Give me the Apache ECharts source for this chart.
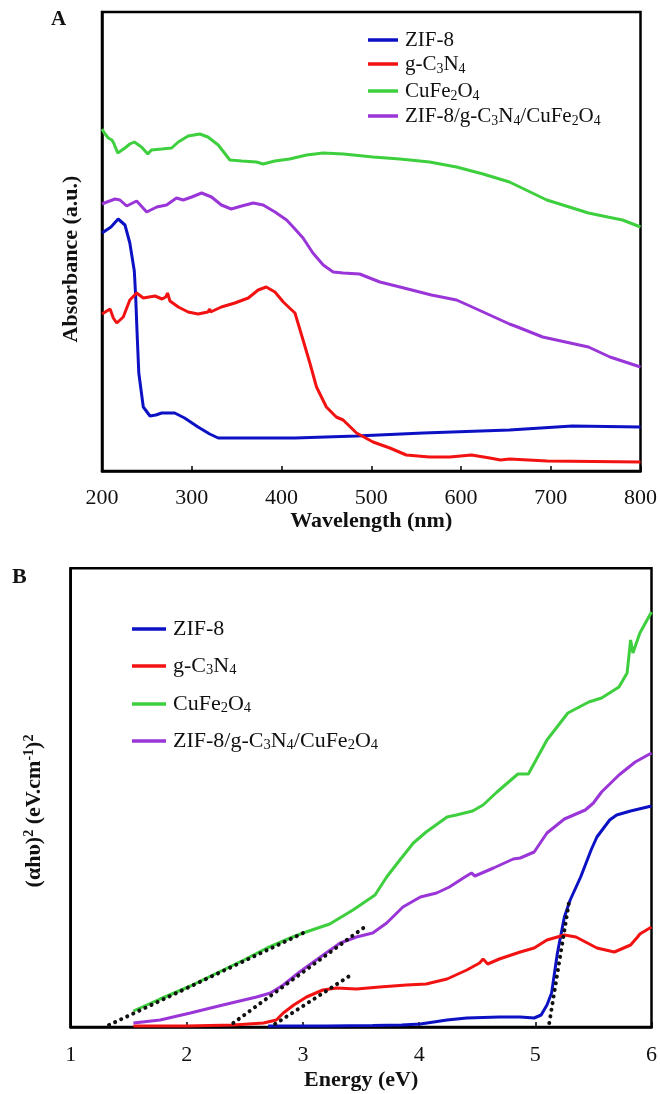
<!DOCTYPE html>
<html><head><meta charset="utf-8">
<script src="https://cdn.jsdelivr.net/npm/echarts@6/dist/echarts.min.js"></script>
<style>html,body{margin:0;padding:0;background:#fff}#c{width:660px;height:1094px}</style>
</head><body><div id="c"></div>
<script>
// ---------- Panel A: UV-Vis absorbance (wavelength nm, arbitrary units) ----------
const wavelengthTicks = [200, 300, 400, 500, 600, 700, 800];
const zif8A = [[200,2.38],[201.5,2.39],[210,2.44],[218,2.52],[225.6,2.46],[231,2.28],[236,2.0],[237.5,1.75],[239,1.4],[241,0.98],[246,0.64],[253.5,0.55],[260,0.56],[266.5,0.58],[281,0.58],[292,0.53],[307,0.44],[320,0.37],[329.5,0.33],[415,0.33],[483.6,0.35],[558,0.38],[654,0.41],[724,0.45],[800,0.44]];
const gc3n4A = [[200,1.57],[201.5,1.58],[209,1.62],[212.6,1.53],[216.4,1.48],[223.7,1.54],[231,1.71],[238.6,1.78],[246,1.73],[259,1.75],[267,1.72],[271,1.74],[273,1.78],[275.7,1.70],[285,1.64],[296,1.59],[307,1.57],[318,1.59],[320,1.62],[321,1.59],[333,1.64],[348,1.68],[363,1.73],[374,1.81],[383,1.84],[392.7,1.79],[402,1.69],[409,1.63],[415,1.58],[424,1.31],[431.6,1.08],[439,0.84],[450,0.64],[461,0.54],[468.7,0.51],[483.6,0.38],[502,0.29],[520.7,0.23],[539,0.16],[565,0.14],[587.5,0.14],[611.7,0.16],[632,0.13],[644,0.11],[654,0.12],[696,0.10],[800,0.09]];
const cufe2o4A = [[200,3.42],[202.6,3.38],[207,3.33],[211,3.31],[213,3.28],[217.5,3.18],[225.6,3.23],[231,3.27],[236,3.29],[244,3.24],[251,3.17],[255,3.21],[266.5,3.22],[277.6,3.23],[285,3.29],[296,3.35],[309,3.37],[318,3.34],[329.5,3.26],[342.5,3.11],[355.6,3.10],[372,3.09],[379.6,3.07],[392.7,3.10],[409,3.12],[428,3.16],[446.5,3.18],[469,3.17],[502,3.14],[532,3.12],[565,3.09],[595,3.04],[624.6,2.97],[654,2.89],[695.6,2.71],[742,2.58],[763.5,2.54],[780,2.51],[800,2.44]];
const compositeA = [[200,2.67],[202.6,2.68],[214.5,2.72],[220,2.71],[227.5,2.65],[238.6,2.70],[249.8,2.59],[261,2.64],[272,2.66],[283,2.73],[290.5,2.71],[300,2.74],[311,2.78],[322,2.74],[333,2.66],[344,2.62],[355.6,2.65],[368.5,2.68],[379.6,2.66],[392.7,2.59],[405.7,2.51],[415,2.42],[424,2.33],[435,2.18],[446.5,2.06],[457.6,1.99],[468.7,1.98],[487,1.97],[509.6,1.89],[532,1.84],[567,1.76],[595,1.71],[610,1.65],[632,1.56],[654,1.47],[663,1.44],[691,1.34],[742,1.24],[766,1.14],[800,1.04]];

// ---------- Panel B: Tauc plot (energy eV) ----------
const energyTicks = [1, 2, 3, 4, 5, 6];
const zif8B = [[2.7,0.01],[3.2,0.01],[3.6,0.015],[3.85,0.02],[4.01,0.03],[4.24,0.07],[4.41,0.09],[4.69,0.10],[4.87,0.10],[4.99,0.09],[5.05,0.12],[5.10,0.22],[5.14,0.34],[5.19,0.74],[5.25,1.10],[5.30,1.27],[5.39,1.50],[5.48,1.77],[5.53,1.90],[5.64,2.07],[5.70,2.12],[5.82,2.16],[6.0,2.21]];
const gc3n4B = [[1.54,0.01],[2.0,0.01],[2.4,0.02],[2.66,0.04],[2.77,0.07],[2.83,0.14],[2.92,0.22],[3.03,0.30],[3.17,0.37],[3.29,0.39],[3.46,0.38],[3.66,0.40],[3.89,0.42],[4.06,0.43],[4.24,0.48],[4.41,0.57],[4.52,0.64],[4.55,0.68],[4.59,0.63],[4.69,0.68],[4.87,0.75],[4.99,0.79],[5.10,0.87],[5.25,0.92],[5.35,0.90],[5.53,0.79],[5.68,0.75],[5.82,0.82],[5.88,0.90],[5.90,0.93],[6.0,1.00]];
const cufe2o4B = [[1.54,0.16],[1.77,0.28],[2.03,0.41],[2.26,0.54],[2.49,0.67],[2.69,0.79],[2.89,0.89],[3.00,0.94],[3.23,1.03],[3.43,1.17],[3.62,1.32],[3.72,1.50],[3.82,1.65],[3.95,1.84],[4.06,1.95],[4.24,2.10],[4.32,2.12],[4.46,2.16],[4.55,2.22],[4.67,2.35],[4.85,2.53],[4.94,2.53],[5.10,2.87],[5.28,3.14],[5.46,3.25],[5.57,3.29],[5.72,3.40],[5.79,3.54],[5.82,3.87],[5.84,3.74],[5.90,3.94],[6.0,4.15]];
const compositeB = [[1.54,0.04],[1.77,0.07],[2.03,0.14],[2.31,0.22],[2.60,0.30],[2.72,0.34],[2.83,0.42],[2.97,0.55],[3.15,0.70],[3.32,0.84],[3.46,0.90],[3.60,0.94],[3.72,1.04],[3.86,1.20],[4.01,1.30],[4.15,1.34],[4.26,1.40],[4.38,1.49],[4.45,1.54],[4.48,1.51],[4.64,1.59],[4.81,1.68],[4.87,1.69],[4.99,1.75],[5.10,1.94],[5.25,2.08],[5.43,2.17],[5.50,2.24],[5.57,2.35],[5.72,2.52],[5.86,2.65],[6.0,2.74]];
// Tauc extrapolation lines (dotted)
const tangentCuFe2O4 = [[1.33,0.02],[3.02,0.95]];
const tangentComposite = [[2.40,0.04],[3.53,1.00]];
const tangentGC3N4 = [[2.76,0.03],[3.40,0.51]];
const tangentZIF8 = [[5.12,0.04],[5.29,1.25]];

const seriesNames = ['ZIF-8', 'g-C3N4', 'CuFe2O4', 'ZIF-8/g-C3N4/CuFe2O4'];
const richNames = {
  'ZIF-8': 'ZIF-8',
  'g-C3N4': 'g-C{s|3}N{s|4}',
  'CuFe2O4': 'CuFe{s|2}O{s|4}',
  'ZIF-8/g-C3N4/CuFe2O4': 'ZIF-8/g-C{s|3}N{s|4}/CuFe{s|2}O{s|4}'
};
const colors = {'ZIF-8':'#0c12c4','g-C3N4':'#f21212','CuFe2O4':'#3ecf3e','ZIF-8/g-C3N4/CuFe2O4':'#9a35d8'};

const FONT = 'Liberation Serif';
const chart = echarts.init(document.getElementById('c'), null, {renderer:'canvas'});

function line(name, data, axisIdx) {
  return {type:'line', name, data, xAxisIndex:axisIdx, yAxisIndex:axisIdx, showSymbol:false, symbol:'none',
    lineStyle:{width:3, color:colors[name]}, itemStyle:{color:colors[name]}, silent:true, z:3};
}
function dotted(data) {
  return {type:'line', name:'fit', data, xAxisIndex:1, yAxisIndex:1, showSymbol:false, symbol:'none',
    lineStyle:{width:4, color:'#111', type:[0.1, 6.6], cap:'round'}, silent:true, z:5};
}
function legendItem(name, left, centerY, fs, iw) {
  return {show:true, data:[{name}], left, top:centerY-12, padding:0, itemWidth:iw, itemHeight:3.5, icon:'rect', itemGap:10,
    selectedMode:false,
    formatter: n => richNames[n],
    textStyle:{fontFamily:FONT, fontSize:fs, color:'#111', lineHeight:24, padding:[0,0,0,2],
      rich:{s:{fontFamily:FONT, fontSize:fs*0.66, color:'#111', lineHeight:13, verticalAlign:'bottom'}}}};
}
function xAxisCfg(gridIndex, min, max, interval, name, labelMargin, nameGap) {
  return {type:'value', gridIndex, min, max, interval,
    name, nameLocation:'middle', nameGap,
    nameTextStyle:{fontFamily:FONT, fontSize:22, fontWeight:'bold', color:'#111'},
    axisLine:{show:true, lineStyle:{color:'#000', width:2.5}},
    axisTick:{show:true, inside:true, length:5, lineStyle:{color:'#000', width:1.5}},
    axisLabel:{fontFamily:FONT, fontSize:22, color:'#111', margin:labelMargin},
    splitLine:{show:false}};
}
function yAxisCfg(gridIndex, max) {
  return {type:'value', gridIndex, min:0, max,
    axisLine:{show:true, lineStyle:{color:'#000', width:2.5}},
    axisTick:{show:false}, axisLabel:{show:false}, splitLine:{show:false}};
}

chart.setOption({
  animation:false,
  backgroundColor:'#fff',
  grid:[
    {left:102, top:12, width:538.7, height:459, show:true, borderColor:'#000', borderWidth:2.5, backgroundColor:'transparent'},
    {left:70.7, top:568.3, width:581.7, height:458.7, show:true, borderColor:'#000', borderWidth:2.5, backgroundColor:'transparent'}
  ],
  xAxis:[
    xAxisCfg(0, wavelengthTicks[0], wavelengthTicks[wavelengthTicks.length-1], 100, 'Wavelength (nm)', 16, 39),
    xAxisCfg(1, energyTicks[0], energyTicks[energyTicks.length-1], 1, 'Energy (eV)', 17, 42)
  ],
  yAxis:[ yAxisCfg(0, 4.59), yAxisCfg(1, 4.587) ],
  legend:[
    legendItem(seriesNames[0], 368, 40, 21, 30),
    legendItem(seriesNames[1], 368, 64, 21, 30),
    legendItem(seriesNames[2], 368, 91, 21, 30),
    legendItem(seriesNames[3], 368, 116, 21, 30),
    legendItem(seriesNames[0], 132, 629, 22, 34),
    legendItem(seriesNames[1], 132, 666, 22, 34),
    legendItem(seriesNames[2], 132, 704, 22, 34),
    legendItem(seriesNames[3], 132, 741, 22, 34)
  ],
  series:[
    line('ZIF-8', zif8A, 0), line('g-C3N4', gc3n4A, 0), line('CuFe2O4', cufe2o4A, 0), line('ZIF-8/g-C3N4/CuFe2O4', compositeA, 0),
    line('ZIF-8', zif8B, 1), line('g-C3N4', gc3n4B, 1), line('CuFe2O4', cufe2o4B, 1), line('ZIF-8/g-C3N4/CuFe2O4', compositeB, 1),
    dotted(tangentCuFe2O4), dotted(tangentComposite), dotted(tangentGC3N4), dotted(tangentZIF8)
  ],
  graphic:[
    {type:'text', left:51, top:9, style:{text:'A', fontFamily:FONT, fontSize:21, fontWeight:'bold', fill:'#111'}},
    {type:'text', left:12, top:566, style:{text:'B', fontFamily:FONT, fontSize:22, fontWeight:'bold', fill:'#111'}},
    {type:'text', x:71, y:259, rotation:Math.PI/2,
      style:{text:'Absorbance (a.u.)', fontFamily:FONT, fontSize:22, fontWeight:'bold', fill:'#111', align:'center', verticalAlign:'middle'}},
    {type:'text', x:34, y:811, rotation:Math.PI/2,
      style:{text:'(αhυ){p|2} (eV.cm{p|-1}){p|2}', fontFamily:FONT, fontSize:22, fontWeight:'bold', fill:'#111', align:'center', verticalAlign:'middle', lineHeight:24,
        rich:{p:{fontFamily:FONT, fontSize:14, fontWeight:'bold', fill:'#111', lineHeight:12, verticalAlign:'top'}}}}
  ]
});
</script></body></html>
